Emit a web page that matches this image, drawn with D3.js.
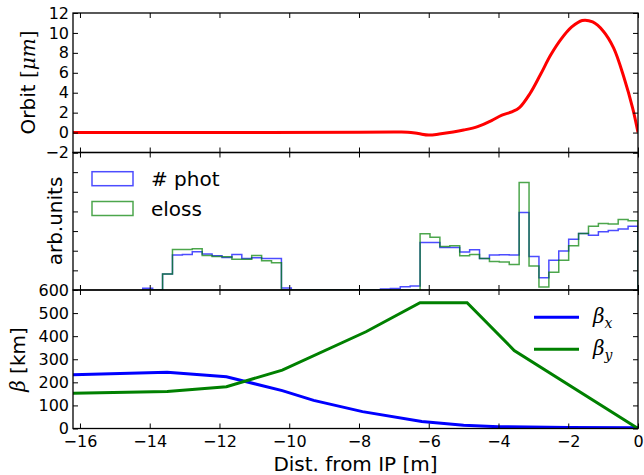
<!DOCTYPE html>
<html>
<head>
<meta charset="utf-8">
<script src="https://cdn.jsdelivr.net/npm/d3@7/dist/d3.min.js"></script>
<style>
body{margin:0;background:#fff;}
text{font-family:"DejaVu Sans",sans-serif;fill:#000;}
</style>
</head>
<body>
<script>
// orbit (top panel)
var orbitX = [-16.2,-12,-8,-7,-6.6,-6.3,-6.0,-5.7,-5.3,-5.0,-4.6,-4.2,-3.9,-3.6,-3.4,-3.1,-2.8,-2.5,-2.2,-1.9,-1.6,-1.3,-1.0,-0.7,-0.4,-0.15,0];
var orbitY = [0,0,0.02,0.05,0.04,-0.1,-0.25,-0.15,0.05,0.25,0.6,1.2,1.75,2.1,2.5,3.9,5.8,7.8,9.4,10.6,11.25,11.1,10.2,8.5,5.5,2.4,0];

// histograms (middle panel), 50 bins from -14.2 to 0
var binStart = -14.2, binWidth = 0.284;
var photVals = [0.09,0,0.81,1.78,1.81,1.95,1.83,1.74,1.66,1.81,1.61,1.64,1.61,1.61,0.1,
  0,0,0,0,0,0,0,0,0,0.05,0.08,0.17,0.2,
  2.42,2.42,2.17,2.17,1.93,2.05,1.61,1.78,1.80,1.78,3.94,1.71,0.63,1.52,1.98,2.59,2.88,2.79,2.96,3.03,3.11,3.25];
var elossVals = [0,0,0.81,2.06,2.06,2.10,1.76,1.71,1.69,1.56,1.56,1.76,1.49,1.39,0,
  0,0,0,0,0,0,0,0,0,0,0,0,0,
  2.86,2.69,2.22,2.25,1.74,1.81,1.61,1.45,1.43,1.30,5.47,1.22,0.15,0.90,1.52,2.25,2.88,3.25,3.38,3.36,3.59,3.52];

// beta functions (bottom panel)
var betaXs = [-16.2,-13.5,-11.8,-10.2,-9.3,-7.9,-6.2,-5,-4,-2,0];
var betaXv = [233,244,224,164,122,73,30,14,8,4,3];
var betaYs = [-16.2,-13.5,-11.8,-10.2,-7.8,-6.25,-4.9,-3.55,0];
var betaYv = [153,160,181,253,419,545,545,338,0];

var xTicks = [-16,-14,-12,-10,-8,-6,-4,-2,0];
var orbitTicks = [-2,0,2,4,6,8,10,12];
var histTicks = [0,1,2,3,4,5,6,7];
var betaTicks = [0,100,200,300,400,500,600];

var W = 644, H = 475;
var svg = d3.select("body").append("svg").attr("width",W).attr("height",H);

var x = d3.scaleLinear().domain([-16.2,0]).range([73,638]);
var yOrb = d3.scaleLinear().domain([-2,12]).range([152.5,13]);
var yHist = d3.scaleLinear().domain([0,7]).range([290,152.5]);
var yBeta = d3.scaleLinear().domain([0,600]).range([428.5,290]);

var panels = [
  {y:yOrb, ticks:orbitTicks, labels:true, id:"p0"},
  {y:yHist, ticks:histTicks, labels:false, id:"p1"},
  {y:yBeta, ticks:betaTicks, labels:true, id:"p2"}
];

var defs = svg.append("defs");
panels.forEach(function(p){
  var r = p.y.range();
  defs.append("clipPath").attr("id","clip"+p.id).append("rect")
    .attr("x",73).attr("y",r[1]).attr("width",565).attr("height",r[0]-r[1]);
});

// orbit line
var orbitLine = d3.line().x(function(d,i){return x(orbitX[i]);}).y(function(d){return yOrb(d);}).curve(d3.curveCatmullRom);
svg.append("path").attr("clip-path","url(#clipp0)")
  .attr("d",orbitLine(orbitY)).attr("fill","none").attr("stroke","#ff0000").attr("stroke-width",3);

// step histograms
function stepPoints(vals){
  var pts = [[binStart,0]];
  vals.forEach(function(v,i){
    pts.push([binStart+i*binWidth, v]);
    pts.push([binStart+(i+1)*binWidth, v]);
  });
  pts.push([binStart+vals.length*binWidth, 0]);
  return pts;
}
var stepLine = d3.line().x(function(d){return x(d[0]);}).y(function(d){return yHist(d[1]);});
svg.append("path").attr("clip-path","url(#clipp1)")
  .attr("d",stepLine(stepPoints(photVals))).attr("fill","none")
  .attr("stroke","#0000ff").attr("stroke-opacity",0.7).attr("stroke-width",1.5);
svg.append("path").attr("clip-path","url(#clipp1)")
  .attr("d",stepLine(stepPoints(elossVals))).attr("fill","none")
  .attr("stroke","#008000").attr("stroke-opacity",0.7).attr("stroke-width",1.5);

// beta lines
var bxLine = d3.line().x(function(d,i){return x(betaXs[i]);}).y(function(d){return yBeta(d);});
var byLine = d3.line().x(function(d,i){return x(betaYs[i]);}).y(function(d){return yBeta(d);});
svg.append("path").attr("clip-path","url(#clipp2)")
  .attr("d",bxLine(betaXv)).attr("fill","none").attr("stroke","#0000ff").attr("stroke-width",3);
svg.append("path").attr("clip-path","url(#clipp2)")
  .attr("d",byLine(betaYv)).attr("fill","none").attr("stroke","#008000").attr("stroke-width",3);

// axes and frames
panels.forEach(function(p,idx){
  var r = p.y.range();
  var top = r[1], bot = r[0];
  var gb = svg.append("g").attr("transform","translate(0,"+bot+")")
    .call(d3.axisBottom(x).tickValues(xTicks).tickSize(-5).tickSizeOuter(0).tickPadding(7)
      .tickFormat(idx==2 ? d3.format("d") : function(){return "";}));
  var gt = svg.append("g").attr("transform","translate(0,"+top+")")
    .call(d3.axisTop(x).tickValues(xTicks).tickSize(-5).tickSizeOuter(0).tickFormat(""));
  var gl = svg.append("g").attr("transform","translate(73,0)")
    .call(d3.axisLeft(p.y).tickValues(p.ticks).tickSize(-5).tickSizeOuter(0).tickPadding(4)
      .tickFormat(p.labels ? d3.format("d") : function(){return "";}));
  var gr = svg.append("g").attr("transform","translate(638,0)")
    .call(d3.axisRight(p.y).tickValues(p.ticks).tickSize(-5).tickSizeOuter(0).tickFormat(""));
  [gb,gt,gl,gr].forEach(function(g){
    g.select(".domain").remove();
    g.selectAll("line").attr("stroke","#000").attr("stroke-width",1);
    g.selectAll("text").style("font-size","16px").style("font-family","DejaVu Sans");
  });
  svg.append("rect").attr("x",73).attr("y",top).attr("width",565).attr("height",bot-top)
    .attr("fill","none").attr("stroke","#000").attr("stroke-width",1.3);
});

// y labels
var lab1 = svg.append("text").attr("transform","translate(35,82.5) rotate(-90)")
  .attr("text-anchor","middle").style("font-size","20px");
lab1.append("tspan").text("Orbit ");
lab1.append("tspan").style("font-family","DejaVu Serif").text("[");
lab1.append("tspan").style("font-family","DejaVu Serif").style("font-style","italic").text("μm");
lab1.append("tspan").style("font-family","DejaVu Serif").text("]");

svg.append("text").attr("transform","translate(61.5,221) rotate(-90)")
  .attr("text-anchor","middle").style("font-size","20px").text("arb.units");

var lab3 = svg.append("text").attr("transform","translate(25,359.5) rotate(-90)")
  .attr("text-anchor","middle").style("font-size","20px");
lab3.append("tspan").style("font-family","DejaVu Serif").style("font-style","italic").text("β");
lab3.append("tspan").text(" [km]");

svg.append("text").attr("x",355.5).attr("y",471).attr("text-anchor","middle")
  .style("font-size","20px").text("Dist. from IP [m]");

// histogram legend
var histLeg = [{name:"# phot", col:"#0000ff", y:178.7},{name:"eloss", col:"#008000", y:208.5}];
histLeg.forEach(function(l){
  svg.append("rect").attr("x",92).attr("y",l.y-7).attr("width",41).attr("height",14)
    .attr("fill","none").attr("stroke",l.col).attr("stroke-opacity",0.7).attr("stroke-width",1.5);
  svg.append("text").attr("x",151).attr("y",l.y).attr("dy","0.35em")
    .style("font-size","20px").text(l.name);
});

// beta legend
var betaLeg = [{sub:"x", col:"#0000ff", y:317.3},{sub:"y", col:"#008000", y:349.3}];
betaLeg.forEach(function(l){
  svg.append("line").attr("x1",534).attr("x2",579).attr("y1",l.y).attr("y2",l.y)
    .attr("stroke",l.col).attr("stroke-width",3);
  var t = svg.append("text").attr("x",593).attr("y",l.y+6)
    .style("font-family","DejaVu Serif").style("font-style","italic").style("font-size","20px");
  t.append("tspan").text("β");
  t.append("tspan").attr("dy",5).style("font-size","14px").text(l.sub);
});
</script>
</body>
</html>
